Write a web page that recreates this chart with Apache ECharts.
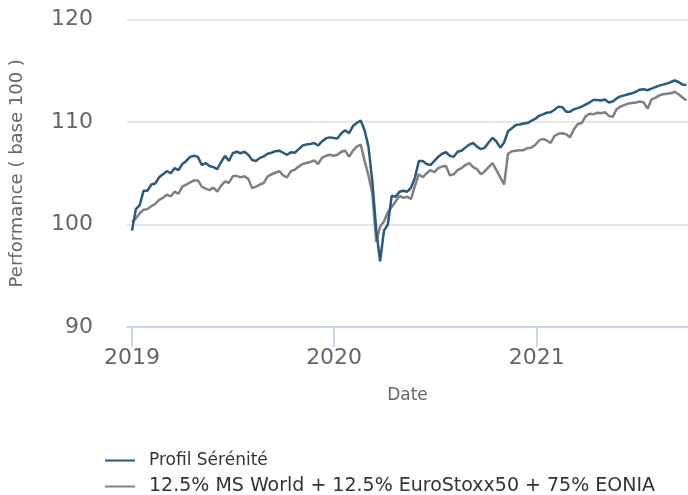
<!DOCTYPE html>
<html>
<head>
<meta charset="utf-8">
<script src="https://cdn.jsdelivr.net/npm/echarts@6/dist/echarts.min.js"></script>
<style>
html,body{margin:0;padding:0;background:#fff;}
#chart{width:688px;height:495px;}
</style>
</head>
<body>
<div id="chart"></div>
<script>
// Weekly observations starting on this date
const startDate = '2019-01-01';
const stepDays = 7;

const seriesNames = ['Profil Sérénité', '12.5% MS World + 12.5% EuroStoxx50 + 75% EONIA'];

const profil = [
 99.4,101.5,101.9,103.3,103.3,103.9,104.0,104.6,104.9,105.2,
 105.0,105.5,105.3,105.9,106.2,106.6,106.7,106.6,105.8,106.0,
 105.7,105.6,105.4,106.1,106.7,106.2,106.95,107.1,106.95,107.1,
 106.8,106.3,106.2,106.5,106.65,106.9,107.0,107.15,107.2,107.0,
 106.8,107.05,107.0,107.35,107.7,107.8,107.85,107.95,107.7,108.1,
 108.4,108.5,108.45,108.4,108.9,109.2,108.9,109.6,109.9,110.15,
 109.2,107.6,104.2,99.5,96.4,99.4,100.0,102.8,102.7,103.2,
 103.3,103.2,103.6,104.6,106.2,106.2,105.9,105.8,106.2,106.6,
 106.9,107.05,106.7,106.6,107.1,107.2,107.5,107.8,107.95,107.6,
 107.35,107.5,108.0,108.45,108.1,107.5,108.0,109.1,109.4,109.7,
 109.75,109.85,109.9,110.1,110.3,110.6,110.75,110.9,110.95,111.2,
 111.5,111.45,111.0,111.0,111.25,111.35,111.5,111.7,111.9,112.15,
 112.15,112.1,112.2,111.9,112.0,112.3,112.5,112.6,112.7,112.8,
 112.95,113.15,113.2,113.1,113.25,113.4,113.55,113.65,113.75,113.9,
 114.05,113.9,113.65,113.6
];

const benchmark = [
 100.2,100.6,101.1,101.45,101.5,101.8,102.0,102.4,102.6,102.9,
 102.75,103.2,103.0,103.7,103.9,104.1,104.3,104.3,103.7,103.5,
 103.35,103.6,103.2,103.8,104.2,104.05,104.7,104.75,104.6,104.7,
 104.45,103.55,103.7,103.9,104.05,104.7,104.9,105.05,105.2,104.8,
 104.6,105.2,105.35,105.65,105.9,106.0,106.1,106.25,105.9,106.5,
 106.7,106.8,106.7,106.8,107.1,107.2,106.6,107.2,107.6,107.8,
 106.2,104.8,103.0,98.3,99.8,100.3,101.2,101.7,102.25,102.8,
 102.6,102.7,102.5,103.8,104.9,104.6,105.0,105.3,105.1,105.5,
 105.65,105.7,104.8,104.9,105.3,105.5,105.8,106.0,105.6,105.4,
 104.9,105.2,105.6,106.0,105.3,104.6,103.9,106.9,107.15,107.2,
 107.25,107.25,107.45,107.5,107.75,108.2,108.35,108.2,107.95,108.65,
 108.85,108.9,108.8,108.5,109.3,109.8,109.9,110.55,110.8,110.75,
 110.9,110.85,110.95,110.6,110.5,111.25,111.5,111.65,111.8,111.85,
 111.9,112.0,111.9,111.3,112.2,112.35,112.6,112.7,112.75,112.8,
 112.95,112.7,112.4,112.1
];

const xMin = '2018-12-23';
const xMax = '2021-10-01';
const yTicks = [90, 100, 110, 120];

const DAY = 24 * 3600 * 1000;
const t0 = new Date(startDate + 'T00:00:00Z').getTime();
function pairs(vals) {
  return vals.map((v, i) => [t0 + i * stepDays * DAY, v]);
}

const FONT = 'DejaVu Sans';
function legendFor(name, top, size) {
  return {
    orient: 'vertical',
    left: 105,
    top: top,
    padding: 0,
    itemWidth: 30,
    itemHeight: 2.5,
    icon: 'path://M0,0H30V2H0Z',
    textStyle: {fontFamily: FONT, fontSize: size, color: '#333333', padding: [0, 0, 0, 9]},
    data: [name]
  };
}

const chart = echarts.init(document.getElementById('chart'), null, {renderer: 'canvas'});
chart.setOption({
  animation: false,
  textStyle: {fontFamily: FONT},
  grid: {left: 126, right: 0, top: 19.5, bottom: 168, containLabel: false},
  legend: [
    legendFor(seriesNames[0], 452, 17),
    legendFor(seriesNames[1], 477, 19)
  ],
  xAxis: {
    type: 'time',
    min: new Date(xMin + 'T00:00:00Z').getTime(),
    max: new Date(xMax + 'T00:00:00Z').getTime(),
    minInterval: 365 * DAY,
    name: 'Date',
    nameLocation: 'middle',
    nameGap: 60,
    nameTextStyle: {fontFamily: FONT, fontSize: 17, color: '#666666'},
    axisLine: {show: true, lineStyle: {color: '#ccd6eb', width: 2}},
    axisTick: {show: true, length: 20, lineStyle: {color: '#ccd6eb', width: 2}},
    splitLine: {show: false},
    axisLabel: {
      fontFamily: FONT, fontSize: 22, color: '#666666', margin: 20,
      showMinLabel: false, showMaxLabel: false,
      formatter: function (val) {
        const d = new Date(val);
        return (d.getUTCMonth() === 0 && d.getUTCDate() === 1) ? String(d.getUTCFullYear()) : '';
      }
    }
  },
  yAxis: {
    type: 'value',
    min: yTicks[0],
    max: yTicks[yTicks.length - 1],
    interval: 10,
    name: 'Performance ( base 100 )',
    nameLocation: 'middle',
    nameGap: 101,
    nameRotate: 90,
    nameTextStyle: {fontFamily: FONT, fontSize: 18, color: '#666666'},
    axisLine: {show: false},
    axisTick: {show: false},
    splitLine: {show: true, lineStyle: {color: '#e6e6e6', width: 2}},
    axisLabel: {fontFamily: FONT, fontSize: 22, color: '#666666', margin: 34}
  },
  series: [
    {
      name: seriesNames[0], type: 'line', data: pairs(profil),
      showSymbol: false, symbol: 'none', z: 3,
      lineStyle: {color: '#2b5a7d', width: 2.5}, itemStyle: {color: '#2b5a7d'}
    },
    {
      name: seriesNames[1], type: 'line', data: pairs(benchmark),
      showSymbol: false, symbol: 'none', z: 2,
      lineStyle: {color: '#808080', width: 2.5}, itemStyle: {color: '#808080'}
    }
  ]
});
</script>
</body>
</html>
